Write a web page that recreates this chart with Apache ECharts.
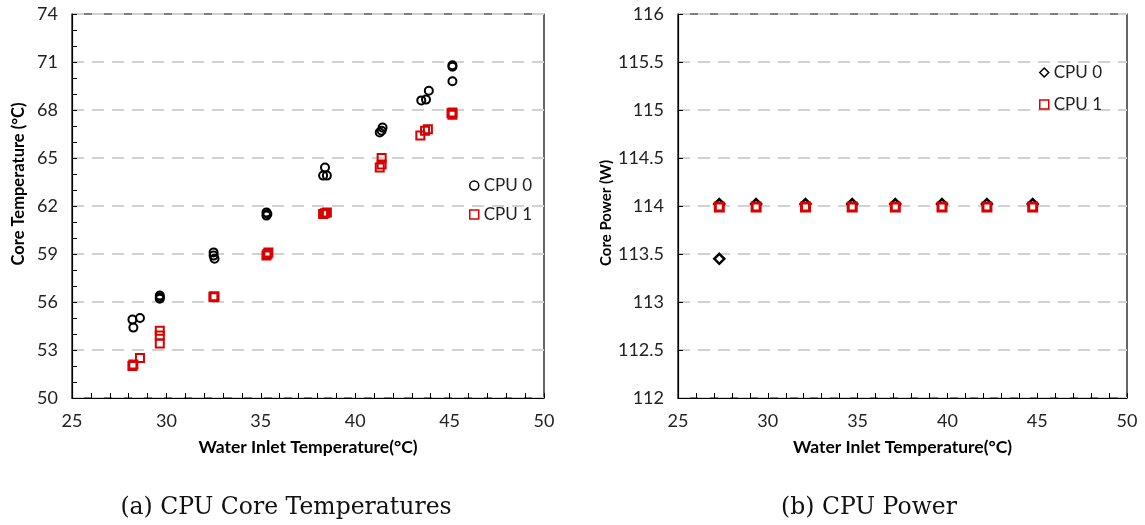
<!DOCTYPE html>
<html>
<head>
<meta charset="utf-8">
<script src="https://cdn.jsdelivr.net/npm/echarts@6/dist/echarts.min.js"></script>
<style>
html,body{margin:0;padding:0;background:#fff;}
#chart{width:1145px;height:525px;}
</style>
</head>
<body>
<div id="chart"></div>
<script>
// ---- Data (a) CPU Core Temperatures: [water inlet °C, core °C]
const cpu0Temp = [
  [28.2, 54.9], [28.6, 55.0], [28.25, 54.4],
  [29.65, 56.4], [29.65, 56.3], [29.65, 56.2],
  [32.5, 59.1], [32.5, 58.9], [32.55, 58.7],
  [35.3, 61.6], [35.35, 61.5], [35.3, 61.4],
  [38.3, 63.9], [38.5, 63.9], [38.4, 64.4],
  [41.3, 66.6], [41.45, 66.9], [41.4, 66.7],
  [43.5, 68.6], [43.75, 68.65], [43.9, 69.2],
  [45.15, 70.8], [45.15, 70.7], [45.15, 69.8]
];
const cpu1Temp = [
  [28.2, 52.0], [28.25, 52.1], [28.6, 52.5],
  [29.65, 54.2], [29.65, 53.9], [29.65, 53.4],
  [32.5, 56.35], [32.5, 56.3], [32.55, 56.35],
  [35.3, 58.9], [35.35, 59.0], [35.4, 59.1],
  [38.3, 61.5], [38.4, 61.55], [38.5, 61.6],
  [41.3, 64.4], [41.4, 64.6], [41.4, 65.0],
  [43.45, 66.4], [43.7, 66.7], [43.85, 66.8],
  [45.1, 67.8], [45.15, 67.7], [45.15, 67.85]
];
// ---- Data (b) CPU Power: [water inlet °C, core power W]
const cpu0Power = [
  [27.3, 114.02], [27.3, 113.45], [29.35, 114.02], [32.1, 114.02], [34.7, 114.02],
  [37.1, 114.02], [39.7, 114.02], [42.2, 114.02], [44.75, 114.02]
];
const cpu1Power = [
  [27.3, 113.99], [29.35, 113.99], [32.1, 113.99], [34.7, 113.99],
  [37.1, 113.99], [39.7, 113.99], [42.2, 113.99], [44.75, 113.99]
];
const seriesNames = ['CPU 0', 'CPU 1'];
const captions = ['(a) CPU Core Temperatures', '(b) CPU Power'];
const xName = 'Water Inlet Temperature(°C)';
const yNames = ['Core Temperature (°C)', 'Core Power (W)'];

const sans = 'Lato';
const tickLabel = {color: '#222', fontFamily: sans, fontSize: 18};
const splitLine = {show: true, lineStyle: {color: '#d2d2d2', width: 2, type: [12, 8]}};
const captionStyle = {fontFamily: 'DejaVu Serif', fontWeight: 'normal', fontSize: 23.5, color: '#111'};

function xAxisOf(gridIndex) {
  return {
    type: 'value', gridIndex, min: 25, max: 50, interval: 5,
    name: xName, nameLocation: 'middle', nameGap: 40,
    nameTextStyle: {fontFamily: sans, fontWeight: 'bold', fontSize: 17.5, color: '#000'},
    axisLine: {lineStyle: {color: '#000', width: 1.2}},
    axisTick: {inside: true, length: 5, lineStyle: {color: '#000'}},
    minorTick: {show: true, splitNumber: 5, length: 5, lineStyle: {color: '#000'}},
    axisLabel: Object.assign({margin: 14}, tickLabel),
    splitLine: {show: false}
  };
}

const option = {
  backgroundColor: '#fff',
  animation: false,
  title: [
    {text: captions[0], left: 281, top: 491, textAlign: 'center', textStyle: captionStyle},
    {text: captions[1], left: 864, top: 491, textAlign: 'center', textStyle: captionStyle}
  ],
  grid: [
    {left: 72, top: 14, width: 472, height: 384, show: true, borderColor: '#000', borderWidth: 1.2, backgroundColor: 'transparent'},
    {left: 678, top: 14, width: 449, height: 384, show: true, borderColor: '#000', borderWidth: 1.2, backgroundColor: 'transparent'}
  ],
  xAxis: [xAxisOf(0), xAxisOf(1)],
  yAxis: [
    {
      type: 'value', gridIndex: 0, min: 50, max: 74, interval: 3,
      name: yNames[0], nameLocation: 'middle', nameGap: 45,
      nameTextStyle: {fontFamily: sans, fontWeight: 'bold', fontSize: 16.5, color: '#000', padding: [0, 0, 0, 44]},
      axisLine: {lineStyle: {color: '#000', width: 1.2}},
      axisTick: {inside: true, length: 5, lineStyle: {color: '#000'}},
      minorTick: {show: true, splitNumber: 3, length: 5, lineStyle: {color: '#000'}},
      axisLabel: Object.assign({margin: 14}, tickLabel),
      splitLine: splitLine
    },
    {
      type: 'value', gridIndex: 1, min: 112, max: 116, interval: 0.5,
      name: yNames[1], nameLocation: 'middle', nameGap: 62,
      nameTextStyle: {fontFamily: sans, fontWeight: 'bold', fontSize: 15, color: '#000', padding: [0, 14, 0, 0]},
      axisLine: {lineStyle: {color: '#000', width: 1.2}},
      axisTick: {inside: true, length: 5, lineStyle: {color: '#000'}},
      axisLabel: Object.assign({margin: 14}, tickLabel),
      splitLine: splitLine
    }
  ],
  legend: [
    {
      left: 464, top: 172, orient: 'vertical', itemGap: 12, itemWidth: 9, itemHeight: 9,
      textStyle: {fontFamily: sans, fontSize: 17, color: '#222'},
      selectedMode: false,
      data: [
        {name: seriesNames[0], icon: 'circle', itemStyle: {color: '#fff', borderColor: '#000', borderWidth: 1.5}},
        {name: seriesNames[1], icon: 'rect', itemStyle: {color: '#fff', borderColor: '#d00', borderWidth: 1.5}}
      ]
    },
    {
      left: 1034, top: 59, orient: 'vertical', itemGap: 15, itemWidth: 9, itemHeight: 9,
      textStyle: {fontFamily: sans, fontSize: 17, color: '#222'},
      selectedMode: false,
      data: [
        {name: seriesNames[0], icon: 'diamond', itemStyle: {color: '#fff', borderColor: '#000', borderWidth: 1.5}},
        {name: seriesNames[1], icon: 'rect', itemStyle: {color: '#fff', borderColor: '#d00', borderWidth: 1.5}}
      ]
    }
  ],
  series: [
    {name: seriesNames[0], type: 'scatter', xAxisIndex: 0, yAxisIndex: 0, data: cpu0Temp,
     symbol: 'circle', symbolSize: 8, itemStyle: {color: 'rgba(255,255,255,0)', borderColor: '#000', borderWidth: 2, opacity: 1}},
    {name: seriesNames[1], type: 'scatter', xAxisIndex: 0, yAxisIndex: 0, data: cpu1Temp,
     symbol: 'rect', symbolSize: 8, itemStyle: {color: 'rgba(255,255,255,0)', borderColor: '#d80000', borderWidth: 2, opacity: 1}},
    {name: seriesNames[0], type: 'scatter', xAxisIndex: 1, yAxisIndex: 1, data: cpu0Power,
     symbol: 'diamond', symbolSize: 10, itemStyle: {color: 'rgba(255,255,255,0)', borderColor: '#000', borderWidth: 2.5, opacity: 1}},
    {name: seriesNames[1], type: 'scatter', xAxisIndex: 1, yAxisIndex: 1, data: cpu1Power,
     symbol: 'rect', symbolSize: 8, itemStyle: {color: '#fff', borderColor: '#d80000', borderWidth: 3, opacity: 1}}
  ]
};

const chart = echarts.init(document.getElementById('chart'), null, {renderer: 'canvas'});
chart.setOption(option);
</script>
</body>
</html>
